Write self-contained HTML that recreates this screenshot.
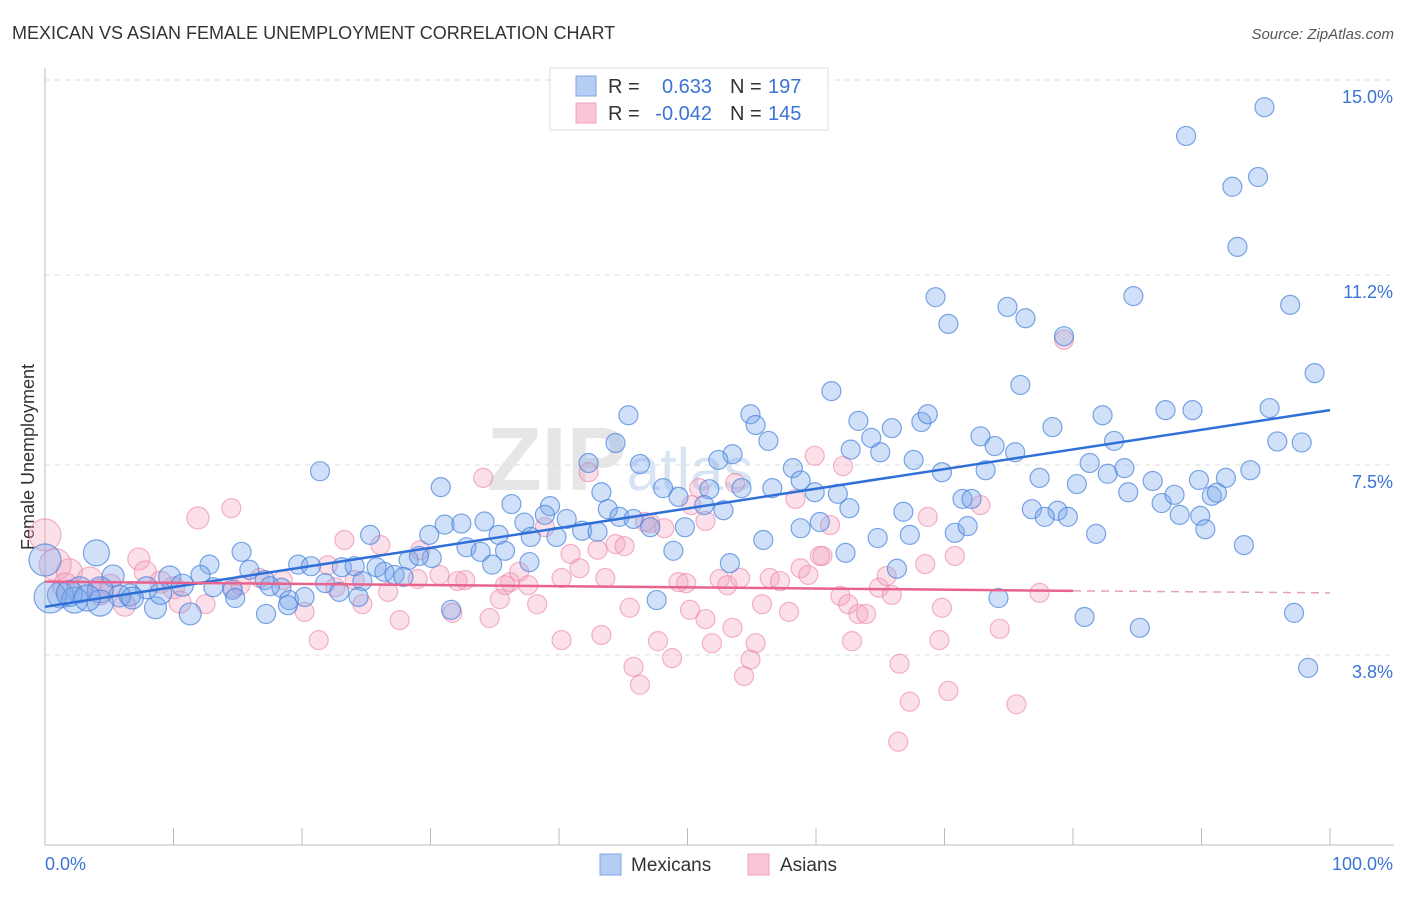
<!DOCTYPE html>
<html><head><meta charset="utf-8"><style>
body{margin:0;background:#fff;font-family:"Liberation Sans",sans-serif;}
svg text{font-family:"Liberation Sans",sans-serif;}
</style></head><body>
<svg id="chart" width="1406" height="892" viewBox="0 0 1406 892">
<text x="12" y="39" font-size="18" fill="#333">MEXICAN VS ASIAN FEMALE UNEMPLOYMENT CORRELATION CHART</text>
<text x="1394" y="39" font-size="15" fill="#555" font-style="italic" text-anchor="end">Source: ZipAtlas.com</text>
<text x="620" y="490" font-size="90" fill="#e6e6e6" font-weight="bold" text-anchor="middle">ZIP<tspan font-size="60" fill="#d6e4f4" font-weight="normal">atlas</tspan></text>
<text transform="translate(34,457) rotate(-90)" font-size="18" fill="#333" text-anchor="middle">Female Unemployment</text>
<g id="grid"></g><g id="axes"></g><g id="pink"></g><g id="blue"></g><g id="trends"></g>
<g>
<rect x="550" y="68" width="278" height="62" fill="#fff" stroke="#ddd"/>
<rect x="576" y="76" width="20" height="20" fill="#b5cdf3" stroke="#7ea6e6"/>
<rect x="576" y="103" width="20" height="20" fill="#f9c6d6" stroke="#f0a0bc"/>
<text x="608" y="93" font-size="20" fill="#333">R =</text>
<text x="712" y="93" font-size="20" fill="#3b74d6" text-anchor="end">0.633</text>
<text x="730" y="93" font-size="20" fill="#333">N =</text>
<text x="768" y="93" font-size="20" fill="#3b74d6">197</text>
<text x="608" y="120" font-size="20" fill="#333">R =</text>
<text x="712" y="120" font-size="20" fill="#3b74d6" text-anchor="end">-0.042</text>
<text x="730" y="120" font-size="20" fill="#333">N =</text>
<text x="768" y="120" font-size="20" fill="#3b74d6">145</text>
</g>
<g>
<rect x="600" y="854" width="21" height="21" fill="#b5cdf3" stroke="#7ea6e6"/>
<text x="631" y="871" font-size="19" fill="#333">Mexicans</text>
<rect x="748" y="854" width="21" height="21" fill="#f9c6d6" stroke="#f0a0bc"/>
<text x="780" y="871" font-size="19" fill="#333">Asians</text>
</g>
</svg>
<script>
const yTicks=[3.8,7.5,11.2,15.0];
const yTickLabels=["3.8%","7.5%","11.2%","15.0%"];
const xTickLabels=["0.0%","100.0%"];
const trendBlue=[[0,4.74],[100,8.57]];
const trendPink=[[0,5.23],[80,5.05],[100,5.01]];
const bluePts=[[94.9,14.47],[88.8,13.91],[92.4,12.92],[94.4,13.11],[92.8,11.75],[69.3,10.77],[70.3,10.25],[74.9,10.58],[76.3,10.36],[84.7,10.79],[96.9,10.62],[79.3,10.01],[98.8,9.29],[75.9,9.06],[61.2,8.94],[45.4,8.47],[54.9,8.49],[63.3,8.36],[68.2,8.34],[68.7,8.49],[82.3,8.47],[87.2,8.57],[89.3,8.57],[95.3,8.61],[78.4,8.24],[55.3,8.28],[44.4,7.93],[56.3,7.97],[62.7,7.80],[64.3,8.03],[65.9,8.22],[72.8,8.06],[73.9,7.87],[75.5,7.75],[83.2,7.97],[95.9,7.96],[97.8,7.94],[53.5,7.71],[52.4,7.60],[65.0,7.75],[67.6,7.60],[69.8,7.36],[73.2,7.40],[77.4,7.25],[81.3,7.54],[82.7,7.33],[84.0,7.44],[86.2,7.19],[89.8,7.21],[91.9,7.25],[93.8,7.40],[21.4,7.38],[42.3,7.54],[46.3,7.52],[58.2,7.44],[30.8,7.07],[43.3,6.97],[48.1,7.05],[49.3,6.88],[51.7,7.03],[54.2,7.05],[56.6,7.05],[59.9,6.97],[61.7,6.94],[58.8,7.20],[62.6,6.66],[71.4,6.84],[72.1,6.84],[80.3,7.13],[84.3,6.97],[86.9,6.76],[87.9,6.92],[90.8,6.90],[91.2,6.96],[36.3,6.74],[39.3,6.70],[43.8,6.64],[51.3,6.72],[52.8,6.62],[76.8,6.64],[78.8,6.61],[79.6,6.49],[88.3,6.53],[89.9,6.51],[90.3,6.25],[66.8,6.59],[31.1,6.34],[32.4,6.36],[34.2,6.40],[37.3,6.38],[38.9,6.53],[40.6,6.45],[41.8,6.22],[43.0,6.20],[44.7,6.49],[45.8,6.45],[47.1,6.29],[49.8,6.29],[58.8,6.27],[60.3,6.39],[70.8,6.18],[71.8,6.31],[81.8,6.16],[93.3,5.94],[77.8,6.49],[25.3,6.14],[29.9,6.14],[32.8,5.90],[33.9,5.81],[35.3,6.14],[35.8,5.83],[37.8,6.10],[39.8,6.10],[55.9,6.04],[48.9,5.83],[62.3,5.79],[64.8,6.08],[67.3,6.14],[15.3,5.81],[19.7,5.56],[20.7,5.53],[25.8,5.51],[28.3,5.65],[30.1,5.69],[29.1,5.73],[34.8,5.56],[37.7,5.61],[53.3,5.59],[66.3,5.48],[12.8,5.56],[12.1,5.36],[4.0,5.79],[0,5.65],[5.3,5.34],[9.7,5.32],[15.9,5.46],[17.1,5.26],[18.4,5.11],[21.8,5.20],[23.1,5.51],[24.1,5.53],[24.7,5.24],[26.4,5.42],[27.2,5.36],[27.9,5.32],[10.7,5.16],[7.9,5.11],[6.6,4.97],[5.8,4.95],[4.3,5.07],[2.7,5.07],[1.2,4.97],[0.4,4.93],[2.3,4.87],[4.3,4.81],[6.8,4.91],[8.6,4.72],[11.3,4.60],[13.1,5.12],[14.6,5.07],[14.8,4.91],[17.2,4.60],[19.0,4.87],[20.2,4.93],[18.9,4.77],[22.9,5.03],[24.4,4.93],[31.6,4.68],[47.6,4.87],[74.2,4.91],[80.9,4.54],[85.2,4.33],[97.2,4.62],[98.3,3.55],[17.5,5.14],[9.0,5.00],[1.9,5.00],[3.3,4.91]];
const pinkPts=[[0,6.14],[0.8,5.56],[1.9,5.42],[3.5,5.26],[5.1,5.16],[7.3,5.67],[7.8,5.42],[11.9,6.47],[14.5,6.66],[10.0,5.11],[10.5,4.83],[12.5,4.79],[14.6,5.11],[16.7,5.30],[18.5,5.26],[20.2,4.64],[21.3,4.09],[22.0,5.55],[23.3,6.04],[24.1,5.26],[24.7,4.79],[26.1,5.94],[26.7,5.03],[27.6,4.48],[29.2,5.84],[30.7,5.36],[31.7,4.62],[32.7,5.26],[34.1,7.25],[34.6,4.52],[35.4,4.89],[36.2,5.22],[36.9,5.42],[37.6,5.16],[38.3,4.79],[38.9,6.29],[40.2,4.09],[40.9,5.77],[41.6,5.49],[42.3,7.36],[43.0,5.85],[43.3,4.19],[44.4,5.96],[45.1,5.92],[45.5,4.72],[45.8,3.57],[46.3,3.22],[47.1,6.37],[47.7,4.07],[48.2,6.27],[48.8,3.74],[49.3,5.22],[49.9,5.20],[50.2,4.68],[50.9,7.05],[51.4,4.50],[51.9,4.03],[52.5,5.28],[53.1,5.16],[53.5,4.33],[54.1,5.30],[54.4,3.39],[54.9,3.71],[55.3,4.03],[55.8,4.79],[56.4,5.30],[57.2,5.24],[57.9,4.64],[58.4,6.84],[58.8,5.49],[59.4,5.36],[59.9,7.68],[60.5,5.73],[61.1,6.33],[61.9,4.95],[62.5,4.79],[62.8,4.07],[63.3,4.60],[63.9,4.60],[64.9,5.11],[65.5,5.34],[65.9,4.97],[66.5,3.63],[67.3,2.89],[68.5,5.57],[68.7,6.49],[69.6,4.09],[69.8,4.72],[70.3,3.10],[70.8,5.73],[72.8,6.72],[74.3,4.31],[75.6,2.84],[77.4,5.01],[79.3,9.94],[66.4,2.11],[60.3,5.73],[51.4,6.41],[50.3,6.72],[46.7,6.39],[53.7,7.15],[62.1,7.48],[43.6,5.30],[40.2,5.30],[35.8,5.16],[32.1,5.24],[29.0,5.28],[22.6,5.12],[15.2,5.16],[9.0,5.22],[6.2,4.77],[4.3,5.03],[1.6,5.14]];
const NS="http://www.w3.org/2000/svg";
const X0=45,X1=1330;
function sx(v){return X0+(X1-X0)*v/100;}
function sy(v){return 80+(15-v)*51.34;}
function mk(tag,attrs,parent){const e=document.createElementNS(NS,tag);for(const k in attrs)e.setAttribute(k,attrs[k]);parent.appendChild(e);return e;}
const grid=document.getElementById('grid'),axes=document.getElementById('axes');
yTicks.forEach((t,i)=>{
  const l=mk('line',{x1:X0,x2:1394,y1:sy(t),y2:sy(t),stroke:'#ddd','stroke-dasharray':'5,5'},grid);
  
  
  const tx=mk('text',{x:1393,y:sy(t)+23,'font-size':18,fill:'#3b74d6','text-anchor':'end'},axes);
  tx.textContent=yTickLabels[i];
  
  
});
const ax=mk('line',{x1:X0,x2:X0,y1:68,y2:845,stroke:'#bbb'},axes);


const bx=mk('line',{x1:X0,x2:1394,y1:845,y2:845,stroke:'#bbb'},axes);


for(let i=0;i<=10;i++){
  const t=mk('line',{x1:sx(i*10),x2:sx(i*10),y1:828,y2:845,stroke:'#bbb'},axes);
  
  
}
const xl0=mk('text',{x:45,y:870,'font-size':18,fill:'#3b74d6'},axes);xl0.textContent=xTickLabels[0];


const xl1=mk('text',{x:1393,y:870,'font-size':18,fill:'#3b74d6','text-anchor':'end'},axes);xl1.textContent=xTickLabels[1];


function rad(p){return p[0]<5?(p[0]<1?16:13):(p[0]<12?11:9.5);}
const pg=document.getElementById('pink');
pinkPts.forEach(p=>{
  const c=mk('circle',{cx:sx(p[0]),cy:sy(p[1]),r:rad(p),fill:'rgba(244,160,190,0.32)',stroke:'rgba(236,130,165,0.6)','stroke-width':1.2},pg);
  
  
});
const bg=document.getElementById('blue');
bluePts.forEach(p=>{
  const c=mk('circle',{cx:sx(p[0]),cy:sy(p[1]),r:rad(p),fill:'rgba(120,165,235,0.35)',stroke:'rgba(70,130,220,0.7)','stroke-width':1.2},bg);
  
  
});
const tg=document.getElementById('trends');
const tb=mk('line',{x1:sx(trendBlue[0][0]),y1:sy(trendBlue[0][1]),x2:sx(trendBlue[1][0]),y2:sy(trendBlue[1][1]),stroke:'#2f6fd8','stroke-width':2.5},tg);


const tp=mk('line',{x1:sx(trendPink[0][0]),y1:sy(trendPink[0][1]),x2:sx(trendPink[1][0]),y2:sy(trendPink[1][1]),stroke:'#e8648e','stroke-width':2.5},tg);


const tpd=mk('line',{x1:sx(trendPink[1][0]),y1:sy(trendPink[1][1]),x2:sx(trendPink[2][0]),y2:sy(trendPink[2][1]),stroke:'#e8a0b8','stroke-width':1.5,'stroke-dasharray':'8,6'},tg);


</script>
</body></html>
